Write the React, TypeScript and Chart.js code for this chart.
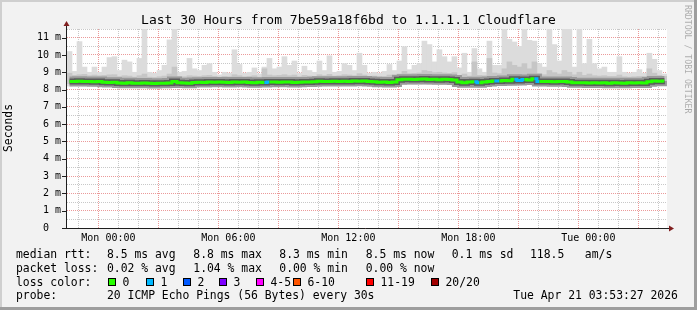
import React, { useEffect, useRef } from 'react';
import { Chart, registerables } from 'chart.js';

Chart.register(...registerables);

// ---- time axis (hours relative to Mon 00:00) ----
const START_HOUR = -2.07;
const END_HOUR = 27.935;
const STEP_HOURS = 0.25;
const xTickHours = [0, 6, 12, 18, 24];
const xTickNames = ['Mon 00:00', 'Mon 06:00', 'Mon 12:00', 'Mon 18:00', 'Tue 00:00'];

// ---- data (ms) ----
const medianRtt = [
  8.47, 8.47, 8.48, 8.46, 8.47, 8.45, 8.46, 8.42, 8.41, 8.42,
  8.38, 8.37, 8.39, 8.37, 8.36, 8.38, 8.36, 8.35, 8.37, 8.36,
  8.38, 8.47, 8.40, 8.38, 8.37, 8.41, 8.42, 8.41, 8.43, 8.42,
  8.43, 8.42, 8.41, 8.43, 8.42, 8.44, 8.41, 8.40, 8.42, 8.41,
  8.43, 8.44, 8.42, 8.44, 8.43, 8.41, 8.42, 8.44, 8.43, 8.45,
  8.48, 8.46, 8.47, 8.48, 8.46, 8.48, 8.47, 8.49, 8.48, 8.50,
  8.47, 8.45, 8.42, 8.43, 8.41, 8.44, 8.56, 8.60, 8.59, 8.58,
  8.60, 8.61, 8.58, 8.60, 8.57, 8.59, 8.58, 8.55, 8.44, 8.40,
  8.43, 8.45, 8.40, 8.44, 8.46, 8.49, 8.50, 8.52, 8.51, 8.60,
  8.52, 8.58, 8.55, 8.62, 8.46, 8.47, 8.46, 8.45, 8.47, 8.46,
  8.43, 8.40, 8.39, 8.40, 8.38, 8.39, 8.38, 8.40, 8.37, 8.39,
  8.38, 8.37, 8.39, 8.38, 8.40, 8.38, 8.45, 8.50, 8.48, 8.49,
];

const smokeLow = [
  8.20, 8.22, 8.21, 8.20, 8.22, 8.19, 8.20, 8.18, 8.17, 8.18,
  8.15, 8.14, 8.16, 8.14, 8.13, 8.15, 8.13, 8.12, 8.14, 8.13,
  8.15, 8.18, 8.15, 8.14, 8.13, 8.17, 8.18, 8.17, 8.18, 8.17,
  8.18, 8.17, 8.16, 8.18, 8.17, 8.19, 8.16, 8.15, 8.17, 8.16,
  8.18, 8.19, 8.17, 8.19, 8.18, 8.16, 8.17, 8.19, 8.18, 8.20,
  8.22, 8.21, 8.22, 8.23, 8.21, 8.23, 8.22, 8.24, 8.23, 8.24,
  8.22, 8.20, 8.17, 8.18, 8.16, 8.19, 8.28, 8.31, 8.30, 8.29,
  8.31, 8.32, 8.29, 8.31, 8.28, 8.30, 8.29, 8.27, 8.19, 8.15,
  8.17, 8.18, 8.14, 8.18, 8.20, 8.22, 8.24, 8.25, 8.24, 8.30,
  8.25, 8.30, 8.28, 8.32, 8.20, 8.21, 8.20, 8.19, 8.21, 8.20,
  8.17, 8.14, 8.13, 8.14, 8.12, 8.13, 8.12, 8.14, 8.11, 8.13,
  8.12, 8.11, 8.13, 8.12, 8.14, 8.12, 8.19, 8.24, 8.22, 8.23,
];

const smokeQ1 = [
  8.34, 8.35, 8.35, 8.33, 8.34, 8.32, 8.33, 8.29, 8.28, 8.29,
  8.25, 8.24, 8.26, 8.24, 8.23, 8.25, 8.23, 8.22, 8.24, 8.23,
  8.25, 8.30, 8.27, 8.25, 8.24, 8.28, 8.29, 8.28, 8.30, 8.29,
  8.30, 8.29, 8.28, 8.30, 8.29, 8.31, 8.28, 8.27, 8.29, 8.28,
  8.30, 8.31, 8.29, 8.31, 8.30, 8.28, 8.29, 8.31, 8.30, 8.32,
  8.35, 8.33, 8.34, 8.35, 8.33, 8.35, 8.34, 8.36, 8.35, 8.37,
  8.34, 8.32, 8.29, 8.30, 8.28, 8.31, 8.42, 8.46, 8.45, 8.44,
  8.46, 8.47, 8.44, 8.46, 8.43, 8.45, 8.44, 8.41, 8.31, 8.27,
  8.30, 8.31, 8.27, 8.31, 8.33, 8.35, 8.37, 8.39, 8.38, 8.45,
  8.38, 8.44, 8.41, 8.47, 8.33, 8.34, 8.33, 8.32, 8.34, 8.33,
  8.30, 8.27, 8.26, 8.27, 8.25, 8.26, 8.25, 8.27, 8.24, 8.26,
  8.25, 8.24, 8.26, 8.25, 8.27, 8.25, 8.32, 8.37, 8.35, 8.36,
];

const smokeQ3 = [
  8.95, 8.82, 8.86, 8.88, 8.80, 8.84, 8.80, 8.82, 8.85, 8.86,
  8.75, 8.80, 8.78, 8.72, 8.80, 8.90, 8.72, 8.70, 8.74, 8.78,
  8.90, 9.30, 8.75, 8.74, 8.80, 8.78, 8.76, 8.80, 8.82, 8.76,
  8.72, 8.76, 8.74, 8.86, 8.80, 8.74, 8.76, 8.80, 8.72, 9.20,
  8.84, 8.80, 8.82, 8.86, 8.80, 8.84, 8.74, 8.82, 8.78, 8.76,
  8.86, 8.80, 8.88, 8.78, 8.80, 8.86, 8.84, 8.80, 8.92, 8.84,
  8.76, 8.78, 8.74, 8.76, 8.84, 8.78, 8.90, 9.05, 8.92, 8.94,
  8.96, 9.10, 9.05, 8.98, 9.00, 8.96, 8.94, 8.98, 8.80, 8.90,
  8.78, 9.60, 8.82, 8.80, 9.80, 8.96, 8.92, 9.20, 9.60, 9.40,
  9.30, 9.50, 9.20, 9.60, 8.92, 8.86, 9.10, 8.98, 8.90, 9.10,
  9.00, 8.85, 9.00, 8.82, 8.90, 8.80, 8.78, 8.80, 8.76, 8.76,
  8.84, 8.74, 8.72, 8.74, 8.76, 8.72, 9.20, 8.95, 8.82, 8.76,
];

const smokeHigh = [
  10.2, 9.05, 10.77, 9.3, 9.0, 9.3, 9.0, 9.3, 9.85, 9.9,
  9.1, 9.7, 9.6, 9.0, 9.8, 11.6, 9.0, 8.95, 9.1, 9.4,
  10.87, 11.6, 9.0, 9.05, 9.8, 9.2, 9.1, 9.4, 9.5, 9.0,
  8.85, 9.0, 8.95, 10.3, 9.45, 8.95, 9.0, 9.25, 8.9, 9.3,
  9.8, 9.2, 9.3, 9.9, 9.4, 9.65, 8.95, 9.35, 9.1, 9.0,
  9.65, 9.1, 9.95, 9.0, 9.05, 9.5, 9.4, 9.1, 10.1, 9.4,
  8.95, 9.0, 8.95, 9.05, 9.45, 9.1, 9.65, 10.48, 9.15, 9.4,
  9.5, 10.8, 10.6, 9.6, 10.3, 9.9, 9.6, 9.9, 9.25, 10.1,
  9.0, 10.37, 9.2, 9.0, 10.8, 9.4, 9.4, 11.6, 10.9, 10.75,
  10.5, 11.6, 10.85, 10.8, 9.5, 9.3, 11.6, 10.6, 9.65, 11.6,
  11.6, 9.3, 11.6, 9.5, 10.9, 9.5, 9.2, 9.3, 9.0, 9.0,
  9.9, 9.0, 8.95, 9.0, 9.15, 8.95, 10.1, 9.75, 9.1, 8.9,
];

const lossCount = [
  0, 0, 0, 0, 0, 0, 0, 0, 0, 0,
  0, 0, 0, 0, 0, 0, 0, 0, 0, 0,
  0, 0, 0, 0, 0, 0, 0, 0, 0, 0,
  0, 0, 0, 0, 0, 0, 0, 0, 0, 1,
  0, 0, 0, 0, 0, 0, 0, 0, 0, 0,
  0, 0, 0, 0, 0, 0, 0, 0, 0, 0,
  0, 0, 0, 0, 0, 0, 0, 0, 0, 0,
  0, 0, 0, 0, 0, 0, 0, 0, 0, 0,
  0, 1, 0, 0, 0, 1, 0, 0, 0, 1,
  1, 0, 0, 1, 0, 0, 0, 0, 0, 0,
  0, 0, 0, 0, 0, 0, 0, 0, 0, 0,
  0, 0, 0, 0, 0, 0, 0, 0, 0, 0,
];

// ---- legend content ----
const titleText = 'Last 30 Hours from 7be59a18f6bd to 1.1.1.1 Cloudflare';
const yTitle = 'Seconds';
const watermark = 'RRDTOOL / TOBI OETIKER';
const rttLabel = 'median rtt:';
const rttStats = ['8.5 ms avg', '8.8 ms max', '8.3 ms min', '8.5 ms now', '0.1 ms sd', '118.5   am/s'];
const lossLabel = 'packet loss:';
const lossStats = ['0.02 % avg', '1.04 % max', '0.00 % min', '0.00 % now'];
const lossColorLabel = 'loss color:';
const lossNames = ['0', '1', '2', '3', '4-5', '6-10', '11-19', '20/20'];
const lossColors = ['#26ff00', '#00b8ff', '#0059ff', '#7e00ff', '#ff00ff', '#ff5500', '#ff0000', '#a10000'];
const probeLabel = 'probe:';
const probeText = '20 ICMP Echo Pings (56 Bytes) every 30s';
const stampText = 'Tue Apr 21 03:53:27 2026';

const MONO = '"DejaVu Sans Mono", monospace';
const MAJOR = '#eb9a9a';
const MINOR = '#c8c8c8';

function colorForLoss(n: number) {
  if (n <= 0) return lossColors[0];
  if (n === 1) return lossColors[1];
  if (n === 2) return lossColors[2];
  if (n === 3) return lossColors[3];
  if (n <= 5) return lossColors[4];
  if (n <= 10) return lossColors[5];
  if (n <= 19) return lossColors[6];
  return lossColors[7];
}

const rrdPlugin = {
  id: 'rrdDecor',
  beforeDraw(chart: any) {
    const { ctx, width, height, chartArea: a } = chart;
    ctx.save();
    ctx.fillStyle = '#f2f2f2';
    ctx.fillRect(0, 0, width, height);
    ctx.fillStyle = '#cfcfcf';
    ctx.fillRect(0, 0, width, 2);
    ctx.fillRect(0, 0, 2, height);
    ctx.fillStyle = '#9e9e9e';
    ctx.fillRect(0, height - 3, width, 3);
    ctx.fillRect(width - 3, 0, 3, height);
    ctx.fillStyle = '#ffffff';
    ctx.fillRect(a.left, a.top, a.right - a.left, a.bottom - a.top);
    ctx.restore();
  },
  afterDraw(chart: any) {
    const { ctx, width, chartArea: a } = chart;
    const ys = chart.scales.y;
    ctx.save();
    // axes
    ctx.strokeStyle = '#1f1f1f';
    ctx.lineWidth = 1;
    ctx.beginPath();
    ctx.moveTo(a.left - 0.5, a.bottom + 0.5);
    ctx.lineTo(a.left - 0.5, a.top - 4);
    ctx.moveTo(a.left - 5, a.bottom + 0.5);
    ctx.lineTo(a.right + 2, a.bottom + 0.5);
    for (let v = 1; v <= 11; v++) {
      const py = Math.round(ys.getPixelForValue(v)) + 0.5;
      ctx.moveTo(a.left - 5, py);
      ctx.lineTo(a.left - 0.5, py);
    }
    ctx.stroke();
    ctx.fillStyle = '#801f1f';
    ctx.beginPath();
    ctx.moveTo(a.left - 3.5, a.top - 3);
    ctx.lineTo(a.left + 2.5, a.top - 3);
    ctx.lineTo(a.left - 0.5, a.top - 8);
    ctx.closePath();
    ctx.fill();
    ctx.beginPath();
    ctx.moveTo(a.right + 2, a.bottom - 2.5);
    ctx.lineTo(a.right + 2, a.bottom + 3.5);
    ctx.lineTo(a.right + 7, a.bottom + 0.5);
    ctx.closePath();
    ctx.fill();

    // title
    ctx.fillStyle = '#000';
    ctx.font = `13px ${MONO}`;
    ctx.textAlign = 'center';
    ctx.textBaseline = 'alphabetic';
    ctx.fillText(titleText, width / 2, 24);

    // y title
    ctx.save();
    ctx.translate(9.5, 128);
    ctx.rotate(-Math.PI / 2);
    ctx.font = `11.4px ${MONO}`;
    ctx.textBaseline = 'middle';
    ctx.fillText(yTitle, 0, 0);
    ctx.restore();

    // watermark
    ctx.save();
    ctx.translate(687, 5);
    ctx.rotate(Math.PI / 2);
    ctx.font = `8.2px ${MONO}`;
    ctx.textAlign = 'left';
    ctx.textBaseline = 'middle';
    ctx.fillStyle = 'rgba(0,0,0,0.3)';
    ctx.fillText(watermark, 0, 0);
    ctx.restore();

    // legend
    ctx.font = `11.4px ${MONO}`;
    ctx.textAlign = 'left';
    ctx.textBaseline = 'alphabetic';
    ctx.fillStyle = '#000';
    const cols = [107, 193.3, 279.3, 365.7, 451.7, 530];
    const rows = [258, 271.8, 285.5, 298.8];
    ctx.fillText(rttLabel, 16, rows[0]);
    rttStats.forEach((s, i) => ctx.fillText(s, cols[i], rows[0]));
    ctx.fillText(lossLabel, 16, rows[1]);
    lossStats.forEach((s, i) => ctx.fillText(s, cols[i], rows[1]));
    ctx.fillText(lossColorLabel, 16, rows[2]);
    const boxX = [108.3, 145.5, 182.5, 219.3, 256, 292.5, 365.8, 431];
    lossNames.forEach((name, i) => {
      const bx = Math.round(boxX[i]);
      ctx.fillStyle = '#000';
      ctx.fillRect(bx, 278, 8, 8);
      ctx.fillStyle = lossColors[i];
      ctx.fillRect(bx + 1, 279, 6, 6);
      ctx.fillStyle = '#000';
      ctx.fillText(name, bx + 14.5, rows[2]);
    });
    ctx.fillText(probeLabel, 16, rows[3]);
    ctx.fillText(probeText, 107, rows[3]);
    ctx.fillText(stampText, 513.3, rows[3]);
    ctx.restore();
  },
};

export default function App() {
  const ref = useRef<HTMLCanvasElement>(null);
  useEffect(() => {
    const canvas = ref.current;
    if (!canvas) return;
    const times = medianRtt.map((_, i) => START_HOUR + (i + 0.5) * STEP_HOURS);
    const medianPts = medianRtt.map((v, i) => ({ x: times[i], y: v }));
    const xGridTicks: number[] = [];
    for (let h = Math.ceil(START_HOUR); h <= END_HOUR; h++) xGridTicks.push(h);
    const yGridTicks: number[] = [];
    for (let k = 0; k <= 23; k++) yGridTicks.push(k * 0.5);

    const smokeLine = (label: string, color: string, width: number, order: number) => ({
      type: 'line',
      label,
      data: medianPts,
      borderColor: color,
      borderWidth: width,
      stepped: 'middle',
      pointRadius: 0,
      borderCapStyle: 'butt',
      order,
    });

    const chart = new Chart(canvas, {
      type: 'bar',
      data: {
        datasets: [
          {
            type: 'line',
            label: 'median',
            data: medianPts,
            borderColor: lossColors[0],
            borderWidth: 3,
            stepped: 'middle',
            pointRadius: 0,
            borderCapStyle: 'butt',
            segment: { borderColor: (c: any) => colorForLoss(lossCount[c.p0DataIndex]) },
            order: 0,
          } as any,
          smokeLine('median smoke dark', '#5c5c5c', 6, 1) as any,
          smokeLine('median smoke mid', '#9a9a9a', 10, 2) as any,
          {
            type: 'bar',
            label: 'inner smoke',
            data: smokeQ1.map((v, i) => ({ x: times[i], y: [v, smokeQ3[i]] })),
            backgroundColor: '#c6c6c6',
            borderWidth: 0,
            grouped: false,
            barPercentage: 1,
            categoryPercentage: 1,
            order: 3,
          } as any,
          {
            type: 'bar',
            label: 'outer smoke',
            data: smokeLow.map((v, i) => ({ x: times[i], y: [v, smokeHigh[i]] })),
            backgroundColor: '#dcdcdc',
            borderWidth: 0,
            grouped: false,
            barPercentage: 1,
            categoryPercentage: 1,
            order: 4,
          } as any,
        ],
      },
      options: {
        responsive: false,
        animation: false,
        devicePixelRatio: 1,
        events: [],
        layout: { padding: { left: 0, top: 29, right: 30, bottom: 0 } },
        plugins: { legend: { display: false }, tooltip: { enabled: false }, title: { display: false } },
        scales: {
          x: {
            type: 'linear',
            min: START_HOUR,
            max: END_HOUR,
            bounds: 'data',
            offset: false,
            z: 1,
            afterFit: (s: any) => { s.height = 82; },
            afterBuildTicks: (s: any) => { s.ticks = xGridTicks.map((v) => ({ value: v })); },
            grid: {
              color: (c: any) => (c.tick && Math.abs(c.tick.value % 3) < 1e-9 ? MAJOR : MINOR),
              lineWidth: 1,
              drawTicks: false,
            },
            border: { display: false, dash: [1, 1] },
            ticks: {
              autoSkip: false,
              maxRotation: 0,
              padding: 4,
              color: '#000',
              font: { family: MONO, size: 10 },
              callback: (v: any) => {
                const k = xTickHours.indexOf(Number(v));
                return k >= 0 ? xTickNames[k] : '';
              },
            },
          },
          y: {
            type: 'linear',
            min: 0,
            max: 11.5,
            bounds: 'data',
            z: 1,
            afterFit: (s: any) => { s.width = 67; },
            afterBuildTicks: (s: any) => { s.ticks = yGridTicks.map((v) => ({ value: v })); },
            grid: {
              color: (c: any) => (c.tick && Number.isInteger(c.tick.value) ? MAJOR : MINOR),
              lineWidth: 1,
              drawTicks: false,
            },
            border: { display: false, dash: [1, 1] },
            ticks: {
              autoSkip: false,
              padding: 6,
              color: '#000',
              font: { family: MONO, size: 10 },
              callback: (v: any) => {
                const n = Number(v);
                if (!Number.isInteger(n)) return '';
                return n === 0 ? '0  ' : `${n} m`;
              },
            },
          },
        },
      } as any,
      plugins: [rrdPlugin],
    });
    return () => chart.destroy();
  }, []);

  return (
    <div style={{ position: 'absolute', left: 0, top: 0, width: 697, height: 310 }}>
      <canvas ref={ref} width={697} height={310} style={{ display: 'block', width: 697, height: 310 }} />
    </div>
  );
}
